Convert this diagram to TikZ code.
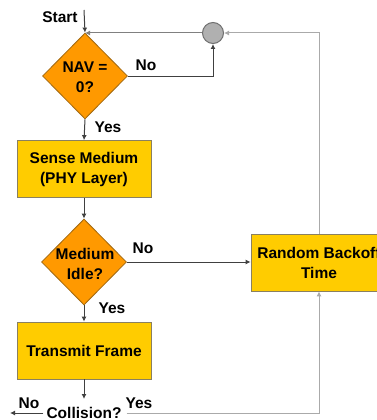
\documentclass[tikz,border=0pt]{standalone}
\usepackage{fontspec}
\setmainfont{Liberation Sans}
\usetikzlibrary{shapes.geometric,arrows.meta}
\definecolor{boxfill}{HTML}{FFCC00}
\definecolor{boxline}{HTML}{8A8060}
\definecolor{dfill}{HTML}{FF9900}
\definecolor{dline}{HTML}{A06810}
\definecolor{cfill}{HTML}{B0B0B0}
\definecolor{cline}{HTML}{707070}
\definecolor{darkln}{HTML}{404040}
\definecolor{midln}{HTML}{808080}
\definecolor{lightln}{HTML}{AAAAAA}
\tikzset{
  txt/.style={font=\fontsize{15.5}{20}\selectfont\bfseries, align=center, inner sep=0pt, text=black},
  procbox/.style={draw=boxline, fill=boxfill, line width=0.8pt, minimum width=134pt, minimum height=57pt, inner sep=0pt, txt},
  decision/.style={diamond, draw=dline, fill=dfill, line width=0.8pt, minimum width=85pt, minimum height=86pt, inner sep=0pt},
  junction/.style={circle, draw=cline, fill=cfill, line width=1pt, minimum size=21pt, inner sep=0pt},
  flow/.style={draw=darkln, line width=1pt, -{Latex[length=5pt,width=5pt]}},
  loopflow/.style={draw=lightln, line width=1pt, -{Latex[length=5pt,width=5pt]}},
  lbl/.style={txt}
}
\begin{document}
\begin{tikzpicture}[x=1pt,y=-1pt]
\useasboundingbox (0,0) rectangle (377,420);
\fill[white] (0,0) rectangle (377,420);
% nodes
\node[decision] (nav) at (85,76) {};
\node[txt] (navt) at (85,77) {NAV =\\0?};
\node[procbox] (sense) at (84,169) {Sense Medium\\(PHY Layer)};
\node[decision] (idle) at (84,262) {};
\node[txt] (idlet) at (85,264) {Medium\\Idle?};
\node[procbox] (trans) at (84,350.5) {Transmit Frame};
\node[procbox, minimum width=136pt] (back) at (319,262.5) {Random Backoff\\Time};
\node[junction] (junc) at (213,33) {};
\node[txt] (coll) at (84,413) {Collision?};
\node[txt] (start) at (60,17) {Start};
\coordinate (st) at (84,10);
\coordinate (cin) at (84,399);
\coordinate (nout) at (10,413);
% labels
\node[lbl] (l1) at (146,65) {No};
\node[lbl] (l2) at (108,127) {Yes};
\node[lbl] (l3) at (143,248) {No};
\node[lbl] (l4) at (112,308) {Yes};
\node[lbl] (l5) at (29,403) {No};
\node[lbl] (l6) at (139,403) {Yes};
% connectors
\draw[flow] (st) -- (nav.north);
\draw[draw=midln, line width=1pt, -{Latex[length=5pt,width=5pt]}] (junc.west) -- (junc.west -| nav.north);
\draw[flow] (nav.east) -| (junc.south);
\draw[flow] (nav.south) -- (sense.north);
\draw[flow] (sense.south) -- (idle.north);
\draw[flow] (idle.east) -- (idle.east -| back.west);
\draw[flow] (idle.south) -- (trans.north);
\draw[flow] (trans.south) -- (cin);
\draw[flow] ([xshift=-3pt]coll.west) -- (nout);
\draw[loopflow] ([xshift=5pt]coll.east) -| (back.south);
\draw[loopflow] (back.north) |- (junc.east);
\end{tikzpicture}
\end{document}
